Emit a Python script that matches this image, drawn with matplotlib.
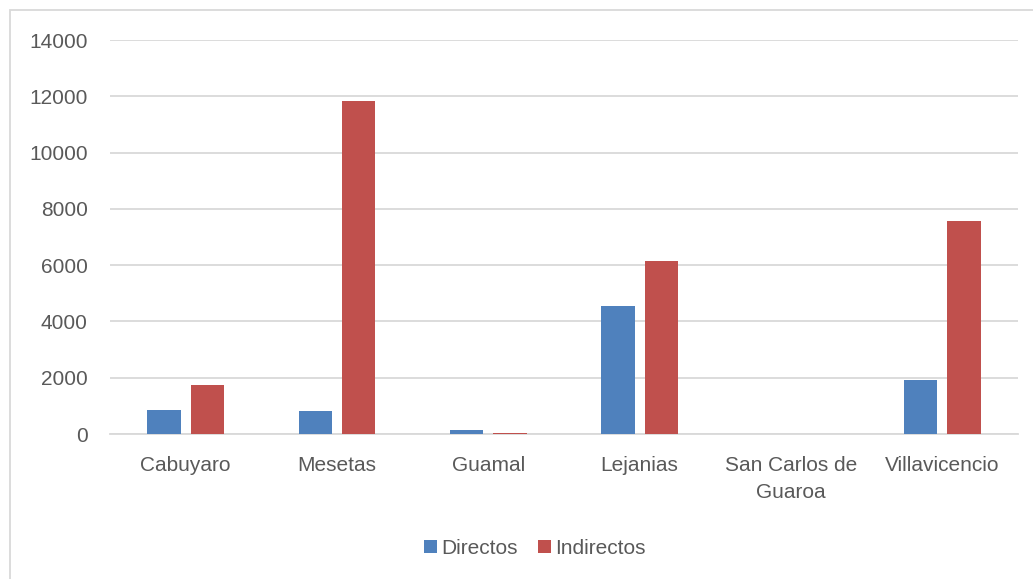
import matplotlib

matplotlib.use("Agg")
import matplotlib.pyplot as plt
import numpy as np
from matplotlib.patches import Rectangle

# values
municipios = ["Cabuyaro", "Mesetas", "Guamal", "Lejanias", "San Carlos de\nGuaroa", "Villavicencio"]
directos = [850, 820, 145, 4540, 0, 1920]
indirectos = [1730, 11830, 35, 6150, 0, 7570]
y_ticks = [0, 2000, 4000, 6000, 8000, 10000, 12000, 14000]

BLUE = "#4f81bd"
RED = "#c0504d"
TEXT = "#595959"
GRID = "#d9d9d9"

plt.rcParams["font.family"] = ["Liberation Sans", "DejaVu Sans"]

W, H = 1033, 579
fig = plt.figure(figsize=(W / 100, H / 100), dpi=100)

# outer chart-area border (left/top edges visible in the reference)
fig.patches.append(Rectangle((10 / W, -0.1), 1.2, 1 - 10 / H + 0.1, transform=fig.transFigure,
                             fill=False, edgecolor=GRID, linewidth=1.3))

ax = fig.add_axes([110 / W, 1 - 434 / H, (1018 - 110) / W, (434 - 40) / H])

x = np.arange(len(municipios))
width = 0.22
off = 0.143
ax.bar(x - off, directos, width, color=BLUE, label="Directos", zorder=3)
ax.bar(x + off, indirectos, width, color=RED, label="Indirectos", zorder=3)

ax.set_xlim(-0.5, len(municipios) - 0.5)
ax.set_ylim(0, 14000)
ax.set_yticks(y_ticks)
ax.set_yticklabels([str(t) for t in y_ticks])
ax.set_xticks(x)
ax.set_xticklabels(municipios, linespacing=1.5)

ax.yaxis.grid(True, color=GRID, linewidth=1.3, zorder=0)
for s in ["top", "right", "left"]:
    ax.spines[s].set_visible(False)
ax.spines["bottom"].set_color(GRID)
ax.spines["bottom"].set_linewidth(1.3)
ax.tick_params(axis="both", length=0, labelsize=15, colors=TEXT)
ax.tick_params(axis="y", pad=16)
ax.tick_params(axis="x", pad=16)

fig.legend(loc="center", bbox_to_anchor=(535 / W, 1 - 548 / H), ncol=2, frameon=False,
           fontsize=15, labelcolor=TEXT, handlelength=0.6, handleheight=0.6,
           handletextpad=0.2, columnspacing=1.0)

fig.savefig("out.png", dpi=100)
